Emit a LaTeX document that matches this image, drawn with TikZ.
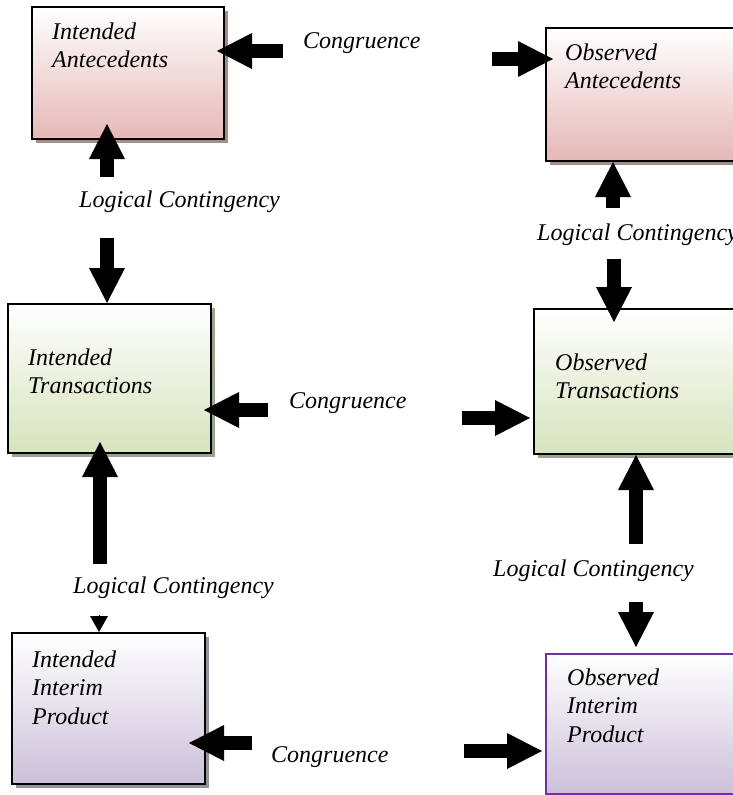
\documentclass[tikz,border=0pt]{standalone}
\usepackage{fontspec}
\setmainfont{Liberation Serif}
\usetikzlibrary{arrows.meta,calc,shadows}

\definecolor{pinkc}{HTML}{E5B8B7}
\definecolor{greenc}{HTML}{D6E3BC}
\definecolor{purplec}{HTML}{CCC0D9}
\definecolor{edgepurple}{HTML}{7030A0}

\begin{document}
\begin{tikzpicture}[x=1pt,y=-1pt,
  txt/.style={font=\fontsize{24}{28.5}\selectfont\itshape, inner sep=0pt, anchor=base west},
  panel/.style={draw=black, line width=2pt, inner sep=0pt, anchor=north west,
                top color=white, bottom color=#1},
  shade/.style={drop shadow={shadow xshift=4pt, shadow yshift=-4pt, fill=#1, opacity=0.85}},
  barrow/.style={line width=13.5pt, -{Triangle[width=36pt,length=35pt,line width=0pt]}},
  smallarrow/.style={line width=0.5pt, -{Triangle[width=18pt,length=16pt,line width=0pt]}}
]
\useasboundingbox (0,0) rectangle (733,795);
\fill[white] (0,0) rectangle (733,795);
\clip (0,0) rectangle (733,795);

% boxes
\node[panel=pinkc, shade=pinkc!65!black, minimum width=192pt, minimum height=132pt] (ia) at (31,6) {};
\node[panel=pinkc, shade=pinkc!65!black, minimum width=200pt, minimum height=133pt] (oa) at (545,27) {};
\node[panel=greenc, shade=greenc!65!black, minimum width=203pt, minimum height=149pt] (it) at (7,303) {};
\node[panel=greenc, shade=greenc!65!black, minimum width=212pt, minimum height=145pt] (ot) at (533,308) {};
\node[panel=purplec, shade=purplec!65!black, minimum width=193pt, minimum height=151pt] (iip) at (11,632) {};
\node[panel=purplec, draw=edgepurple, minimum width=200pt, minimum height=140pt] (oip) at (545,653) {};

% box texts
\node[txt] (iat) at (52,39) {\begin{tabular}[t]{@{}l@{}}Intended\\Antecedents\end{tabular}};
\node[txt] (oat) at (565,60) {\begin{tabular}[t]{@{}l@{}}Observed\\Antecedents\end{tabular}};
\node[txt] (itt) at (28,365) {\begin{tabular}[t]{@{}l@{}}Intended\\Transactions\end{tabular}};
\node[txt] (ott) at (555,370) {\begin{tabular}[t]{@{}l@{}}Observed\\Transactions\end{tabular}};
\node[txt] (iipt) at (32,667) {\begin{tabular}[t]{@{}l@{}}Intended\\Interim\\Product\end{tabular}};
\node[txt] (oipt) at (567,685) {\begin{tabular}[t]{@{}l@{}}Observed\\Interim\\Product\end{tabular}};

% labels
\node[txt] (cg1) at (303,48) {Congruence};
\node[txt] (cg2) at (289,408) {Congruence};
\node[txt] (cg3) at (271,762) {Congruence};
\node[txt] (lc1) at (79,207) {Logical Contingency};
\node[txt] (lc2) at (537,240) {Logical Contingency};
\node[txt] (lc3) at (73,593) {Logical Contingency};
\node[txt] (lc4) at (493,576) {Logical Contingency};

% arrow tails
\coordinate (t1) at (283,51);
\coordinate (t2) at (492,59);
\coordinate (t3) at (107,177);
\coordinate (t4) at (107,238);
\coordinate (t5) at (613,208);
\coordinate (t6) at (614,259);
\coordinate (t7) at (268,410);
\coordinate (t8) at (462,418);
\coordinate (t9) at (100,564);
\coordinate (t10) at (99,615);
\coordinate (t11) at (636,544);
\coordinate (t12) at (636,602);
\coordinate (t13) at (252,743);
\coordinate (t14) at (464,751);

% congruence arrows
\draw[barrow] (t1) -- ($(ia.east |- t1)+(-8,0)$);
\draw[barrow] (t2) -- ($(oa.west |- t2)+(8,0)$);
\draw[barrow] (t7) -- ($(it.east |- t7)+(-8,0)$);
\draw[barrow] (t8) -- ($(ot.west |- t8)+(-3,0)$);
\draw[barrow] (t13) -- ($(iip.east |- t13)+(-17,0)$);
\draw[barrow] (t14) -- ($(oip.west |- t14)+(-3,0)$);

% logical contingency arrows
\draw[barrow] (t3) -- ($(ia.south -| t3)+(0,-16)$);
\draw[barrow] (t4) -- (it.north -| t4);
\draw[barrow] (t5) -- (oa.south -| t5);
\draw[barrow] (t6) -- ($(ot.north -| t6)+(0,14)$);
\draw[barrow] (t9) -- ($(it.south -| t9)+(0,-12)$);
\draw[smallarrow] (t10) -- (iip.north -| t10);
\draw[barrow] (t11) -- (ot.south -| t11);
\draw[barrow] (t12) -- ($(oip.north -| t12)+(0,-6)$);
\end{tikzpicture}
\end{document}
